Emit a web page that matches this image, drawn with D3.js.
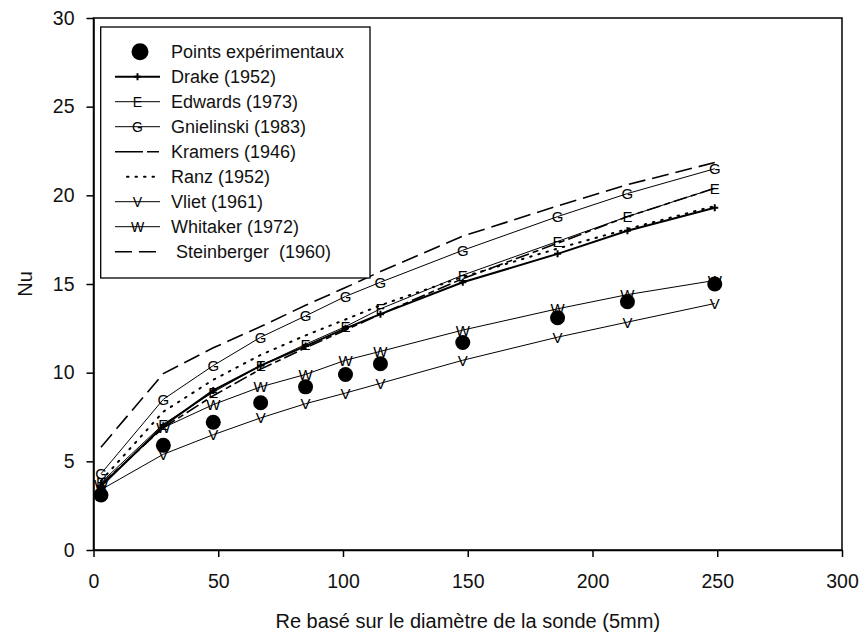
<!DOCTYPE html>
<html>
<head>
<meta charset="utf-8">
<script src="https://cdn.jsdelivr.net/npm/d3@7"></script>
<style>
  html, body { margin: 0; padding: 0; background: #fff; }
  svg { display: block; font-family: "Liberation Sans", Arial, Helvetica, sans-serif; }
</style>
</head>
<body>
<svg id="chart" width="860" height="637"></svg>
<script>
// ---- data ----
const re = [3, 28, 48, 67, 85, 101, 115, 148, 186, 214, 249];
const nuExp         = [3.1, 5.9, 7.2, 8.3, 9.2, 9.9, 10.5, 11.7, 13.1, 14.0, 15.0];
const nuDrake       = [3.6, 7.0, 9.0, 10.4, 11.5, 12.5, 13.3, 15.1, 16.7, 18.0, 19.3];
const nuEdwards     = [3.8, 7.1, 8.9, 10.4, 11.6, 12.6, 13.6, 15.5, 17.4, 18.8, 20.4];
const nuGnielinski  = [4.3, 8.5, 10.4, 12.0, 13.2, 14.3, 15.1, 16.9, 18.8, 20.1, 21.5];
const nuKramers     = [3.7, 6.9, 8.7, 10.2, 11.4, 12.4, 13.3, 15.3, 17.3, 18.8, 20.4];
const nuRanz        = [3.9, 7.8, 9.6, 11.0, 12.1, 13.0, 13.8, 15.4, 17.0, 18.1, 19.4];
const nuVliet       = [3.4, 5.4, 6.5, 7.45, 8.25, 8.85, 9.4, 10.7, 12.0, 12.85, 13.9];
const nuWhitaker    = [3.7, 6.9, 8.2, 9.2, 9.9, 10.7, 11.2, 12.4, 13.6, 14.4, 15.2];
const nuSteinberger = [5.8, 9.95, 11.4, 12.6, 13.8, 14.8, 15.7, 17.7, 19.4, 20.6, 21.85];

const xTicks = [0, 50, 100, 150, 200, 250, 300];
const yTicks = [0, 5, 10, 15, 20, 25, 30];
const xTitle = "Re basé sur le diamètre de la sonde (5mm)";
const yTitle = "Nu";

const legendLabels = ["Points expérimentaux", "Drake (1952)", "Edwards (1973)", "Gnielinski (1983)",
  "Kramers (1946)", "Ranz (1952)", "Vliet (1961)", "Whitaker (1972)", "Steinberger  (1960)"];

// ---- layout ----
const svg = d3.select("#chart");
const L = 93.5, R = 842, T = 18, B = 550;
const x = d3.scaleLinear().domain([0, 300]).range([L, R]);
const y = d3.scaleLinear().domain([0, 30]).range([B, T]);

// series definitions (style only)
const series = [
  { key: "exp",  vals: nuExp, type: "dot" },
  { key: "drake", vals: nuDrake, width: 2, dash: null, marker: "plus" },
  { key: "edwards", vals: nuEdwards, width: 1, dash: null, marker: "E" },
  { key: "gniel", vals: nuGnielinski, width: 1, dash: null, marker: "G" },
  { key: "kramers", vals: nuKramers, width: 1.6, dash: "14,4,6,4", marker: null },
  { key: "ranz", vals: nuRanz, width: 2, dash: "1.5,7", marker: null },
  { key: "vliet", vals: nuVliet, width: 1, dash: null, marker: "V" },
  { key: "whitaker", vals: nuWhitaker, width: 1, dash: null, marker: "W" },
  { key: "stein", vals: nuSteinberger, width: 1.6, dash: "17,7", marker: null }
];

// frame
svg.append("rect").attr("x", L).attr("y", T).attr("width", R - L).attr("height", B - T)
  .attr("fill", "none").attr("stroke", "#000").attr("stroke-width", 1.5);

// axes
const fontTick = 19.5;
const xAxis = svg.append("g").attr("transform", `translate(0,${B})`)
  .call(d3.axisBottom(x).tickValues(xTicks).tickSize(7).tickPadding(17).tickSizeOuter(0));
const yAxis = svg.append("g").attr("transform", `translate(${L},0)`)
  .call(d3.axisLeft(y).tickValues(yTicks).tickSize(7).tickPadding(12).tickSizeOuter(0));
[xAxis, yAxis].forEach(g => {
  g.select(".domain").attr("stroke", "#000").attr("stroke-width", 1.5);
  g.selectAll(".tick line").attr("stroke", "#000").attr("stroke-width", 1.5);
  g.selectAll(".tick text").attr("fill", "#111").style("font-size", fontTick + "px")
    .style("font-family", "'Liberation Sans', Arial, sans-serif");
});

// axis titles
svg.append("text").attr("x", (L + R) / 2).attr("y", 628).attr("text-anchor", "middle")
  .style("font-size", "20px").attr("fill", "#111").text(xTitle);
svg.append("text").attr("transform", `translate(32,${(T + B) / 2}) rotate(-90)`)
  .attr("text-anchor", "middle").style("font-size", "20px").attr("fill", "#111").text(yTitle);

// lines
const line = d3.line().x(d => x(d[0])).y(d => y(d[1]));
const plotG = svg.append("g");

function drawMarker(g, m, cx, cy, size) {
  if (m === "plus") {
    g.append("path").attr("d", `M${cx - 3.5},${cy}H${cx + 3.5}M${cx},${cy - 3.5}V${cy + 3.5}`)
      .attr("stroke", "#000").attr("stroke-width", 2).attr("fill", "none");
  } else if (m) {
    g.append("text").attr("x", cx).attr("y", cy).attr("text-anchor", "middle")
      .attr("dominant-baseline", "central").style("font-size", size + "px").attr("fill", "#000")
      .text(m);
  }
}

series.forEach(s => {
  const pts = re.map((r, i) => [r, s.vals[i]]);
  if (s.type === "dot") return;
  plotG.append("path").datum(pts).attr("d", line).attr("fill", "none")
    .attr("stroke", "#000").attr("stroke-width", s.width)
    .attr("stroke-dasharray", s.dash).attr("stroke-linecap", s.key === "ranz" ? "round" : "butt");
  if (s.marker) pts.forEach(p => drawMarker(plotG, s.marker, x(p[0]), y(p[1]), 15));
});
// experimental points on top
plotG.selectAll("circle.exp").data(re.map((r, i) => [r, nuExp[i]])).enter().append("circle")
  .attr("class", "exp").attr("cx", d => x(d[0])).attr("cy", d => y(d[1])).attr("r", 7.5).attr("fill", "#000");

// legend
const lg = svg.append("g");
const lx0 = 100.7, ly0 = 27, lx1 = 370, ly1 = 278;
lg.append("rect").attr("x", lx0).attr("y", ly0).attr("width", lx1 - lx0).attr("height", ly1 - ly0)
  .attr("fill", "#fff").attr("stroke", "#000").attr("stroke-width", 1.3);
legendLabels.forEach((lab, i) => {
  const s = series[i];
  const cy = 51.7 + i * 25;
  const sx0 = 115, sx1 = 160, sm = 137.5;
  if (s.type === "dot") {
    lg.append("circle").attr("cx", 140).attr("cy", cy).attr("r", 8.5).attr("fill", "#000");
  } else {
    let a = sx0, b = sx1;
    if (s.key === "ranz") { a = 127; b = 156; }
    lg.append("line").attr("x1", a).attr("x2", b).attr("y1", cy).attr("y2", cy)
      .attr("stroke", "#000").attr("stroke-width", s.width)
      .attr("stroke-dasharray", s.key === "kramers" ? "28,4,12,4" : s.dash)
      .attr("stroke-linecap", s.key === "ranz" ? "round" : "butt");
    if (s.marker) drawMarker(lg, s.marker, sm, cy, 14);
  }
  lg.append("text").attr("x", i === 8 ? 176 : 171).attr("y", cy).attr("dominant-baseline", "central")
    .style("font-size", "18px").style("white-space", "pre").attr("fill", "#111").text(lab);
});
</script>
</body>
</html>
